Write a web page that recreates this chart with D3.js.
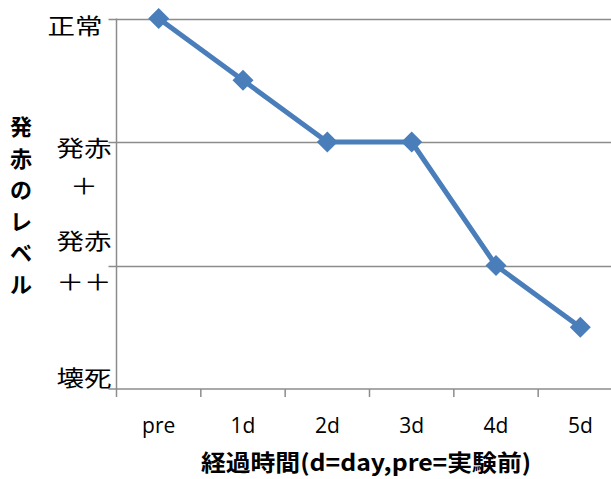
<!DOCTYPE html>
<html>
<head>
<meta charset="utf-8">
<script src="https://cdn.jsdelivr.net/npm/d3@7"></script>
<style>
  html, body { margin: 0; padding: 0; background: #fff; }
  svg { display: block; }
</style>
</head>
<body>
<svg id="chart" width="611" height="479"></svg>
<script>
// Days after the start of the experiment
const days = ["pre", "1d", "2d", "3d", "4d", "5d"];
// Redness level (0 = 正常, 1 = 発赤＋, 2 = 発赤＋＋, 3 = 壊死)
const rednessLevel = [0, 0.5, 1, 1, 2, 2.5];
// Level tick values and their (multi-line) labels
const levelTicks = [0, 1, 2, 3];
const levelLabels = [["正常"], ["発赤", "＋"], ["発赤", "＋＋"], ["壊死"]];
const xTitle = "経過時間(d=day,pre=実験前)";
const yTitle = "発赤のレベル";

const svg = d3.select("#chart");
const W = 611, H = 479;
const plot = { left: 116.5, right: 622.5, top: 18.5, bottom: 389 };

const x = d3.scaleBand().domain(days).range([plot.left, plot.right]);
const y = d3.scaleLinear().domain([0, 3]).range([plot.top, plot.bottom]);

const gridColor = "#8c8c8c";
const blue = "#4a7ebb";
const cjk = "'Noto Sans CJK JP', 'Noto Sans', sans-serif";

// Horizontal gridlines (with outward tick stubs)
svg.append("g")
  .selectAll("line")
  .data(levelTicks.filter(d => d < 3))
  .join("line")
  .attr("x1", plot.left - 8).attr("x2", W)
  .attr("y1", d => Math.round(y(d)) + 0.5).attr("y2", d => Math.round(y(d)) + 0.5)
  .attr("stroke", gridColor).attr("stroke-width", 1.5);

// Left axis line
svg.append("line")
  .attr("x1", plot.left).attr("x2", plot.left)
  .attr("y1", plot.top).attr("y2", plot.bottom)
  .attr("stroke", gridColor).attr("stroke-width", 1.5);

// Bottom axis with ticks between categories
const xAxis = d3.axisBottom(x).tickSize(0).tickPadding(0).tickFormat("");
const gx = svg.append("g").attr("transform", `translate(0,${plot.bottom})`).call(xAxis);
gx.select(".domain").remove();
svg.append("line")
  .attr("x1", plot.left - 8).attr("x2", W)
  .attr("y1", plot.bottom).attr("y2", plot.bottom)
  .attr("stroke", gridColor).attr("stroke-width", 1.5);
svg.append("g")
  .selectAll("line")
  .data(days)
  .join("line")
  .attr("x1", d => x(d)).attr("x2", d => x(d))
  .attr("y1", plot.bottom).attr("y2", plot.bottom + 8)
  .attr("stroke", gridColor).attr("stroke-width", 1.5);

// Category labels
svg.append("g")
  .selectAll("text")
  .data(days)
  .join("text")
  .attr("x", d => x(d) + x.bandwidth() / 2)
  .attr("y", 433)
  .attr("text-anchor", "middle")
  .attr("font-family", "'Open Sans', sans-serif")
  .attr("font-size", 21)
  .attr("fill", "#000")
  .text(d => d);

// Level labels: centred block of lines beside each tick
const labelLayout = [
  { cx: 75, firstBaseline: 34 },
  { cx: 84, firstBaseline: 156 },
  { cx: 84, firstBaseline: 249 },
  { cx: 84, firstBaseline: 386 }
];
const lineGap = [0, 38, 41, 0];
const levelG = svg.append("g");
levelTicks.forEach((t, i) => {
  levelLabels[i].forEach((line, j) => {
    const by = labelLayout[i].firstBaseline + j * lineGap[i];
    levelG.append("text")
      .attr("transform", `translate(${labelLayout[i].cx},${by}) scale(1.25,1)`)
      .attr("text-anchor", "middle")
      .attr("font-family", cjk)
      .attr("font-size", 22)
      .attr("fill", "#000")
      .text(line);
  });
});

// Series line
const line = d3.line()
  .x((d, i) => x(days[i]) + x.bandwidth() / 2)
  .y(d => y(d));
svg.append("path")
  .datum(rednessLevel)
  .attr("d", line)
  .attr("fill", "none")
  .attr("stroke", blue)
  .attr("stroke-width", 5)
  .attr("stroke-linejoin", "round");

// Diamond markers
const r = 10.5;
svg.append("g")
  .selectAll("path")
  .data(rednessLevel)
  .join("path")
  .attr("transform", (d, i) => `translate(${x(days[i]) + x.bandwidth() / 2},${y(d)})`)
  .attr("d", `M0,${-r}L${r},0L0,${r}L${-r},0Z`)
  .attr("fill", blue);

// Axis titles
svg.append("text")
  .attr("transform", "translate(366,471) scale(1.08,1)")
  .attr("text-anchor", "middle")
  .attr("font-family", cjk)
  .attr("font-weight", "bold")
  .attr("font-size", 23)
  .attr("fill", "#000")
  .text(xTitle);

svg.append("g")
  .selectAll("text")
  .data(Array.from(yTitle))
  .join("text")
  .attr("x", 21)
  .attr("y", (d, i) => 135 + i * 31.5)
  .attr("text-anchor", "middle")
  .attr("font-family", cjk)
  .attr("font-weight", "bold")
  .attr("font-size", 22)
  .attr("fill", "#000")
  .text(d => d);
</script>
</body>
</html>
